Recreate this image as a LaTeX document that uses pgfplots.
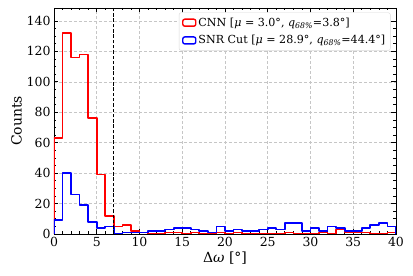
\documentclass[border=0pt]{standalone}
\usepackage{fontspec}
\setmainfont{DejaVu Serif}
\usepackage{pgfplots}
\pgfplotsset{compat=1.18}
\begin{document}
\begin{tikzpicture}
\begin{axis}[
  scale only axis,
  width=342pt, height=226pt,
  xmin=0, xmax=40, ymin=0, ymax=148.5,
  xtick={0,5,...,40}, ytick={0,20,...,140},
  minor x tick num=4, minor y tick num=3,
  tick align=inside, xtick pos=both, ytick pos=both,
  major tick length=4.5pt, minor tick length=2.5pt,
  tick style={black, line width=0.7pt},
  axis line style={line width=0.8pt},
  grid=major,
  major grid style={densely dashed, gray!45, line width=0.5pt},
  /pgf/number format/assume math mode=true,
  ticklabel style={font=\fontsize{12.5}{14}\selectfont},
  xlabel={Δ\textit{ω} [°]},
  ylabel={Counts},
  label style={font=\fontsize{14}{15}\selectfont},
  xlabel style={yshift=2pt},
  ylabel style={yshift=-2pt},
  legend style={at={(0.984,0.98)}, anchor=north east, draw=gray!30, rounded corners=2pt,
    font=\fontsize{11.1}{13}\selectfont, inner xsep=3pt, inner ysep=3pt, row sep=3.8pt},
  legend cell align=left,
  legend image code/.code={\draw[#1, line width=1.4pt, line join=round] (0pt,-3.5pt) rectangle (13pt,3.5pt);},
]
\addplot[draw=red, line width=1.7pt, line join=round] coordinates {
(0,0)(0,63)(1,63)(1,132)(2,132)(2,116)(3,116)(3,118)(4,118)(4,76)(5,76)(5,39)(6,39)(6,12)(7,12)(7,5)(8,5)(8,6)(9,6)(9,2)(10,2)(10,1)(11,1)(11,0)(13,0)(13,1)(15,1)(15,0)(16,0)(16,1)(17,1)(17,0)(19,0)(19,1)(20,1)(20,0)(21,0)(21,1)(22,1)(22,0)(27,0)(27,1)(28,1)(28,0)(31,0)(31,1)(32,1)(32,0)(33,0)(33,3)(34,3)(34,1)(37,1)(37,0)(39,0)(39,1)(40,1)(40,0)};
\addlegendentry{CNN [\textit{μ} = 3.0°, \textit{q}\textsubscript{\textit{68\%}}=3.8°]}
\addplot[draw=blue, line width=1.7pt, line join=round] coordinates {
(0,0)(0,9)(1,9)(1,40)(2,40)(2,26)(3,26)(3,19)(4,19)(4,8)(5,8)(5,4)(6,4)(6,5)(7,5)(7,0)(8,0)(8,1)(11,1)(11,2)(13,2)(13,3)(14,3)(14,4)(16,4)(16,3)(17,3)(17,2)(18,2)(18,1)(19,1)(19,5)(20,5)(20,2)(21,2)(21,3)(22,3)(22,2)(24,2)(24,3)(25,3)(25,4)(26,4)(26,3)(27,3)(27,7)(29,7)(29,2)(30,2)(30,4)(31,4)(31,2)(32,2)(32,5)(33,5)(33,4)(34,4)(34,2)(36,2)(36,4)(37,4)(37,6)(38,6)(38,7)(39,7)(39,5)(40,5)(40,0)};
\addlegendentry{SNR Cut [\textit{μ} = 28.9°, \textit{q}\textsubscript{\textit{68\%}}=44.4°]}
\draw[dash pattern=on 3.5pt off 1.8pt, black, line width=0.9pt] (axis cs:6.9,0) -- (axis cs:6.9,148.5);
\end{axis}
\pgfresetboundingbox
\useasboundingbox (-54pt,-42pt) rectangle (359pt,234pt);
\end{tikzpicture}
\end{document}
